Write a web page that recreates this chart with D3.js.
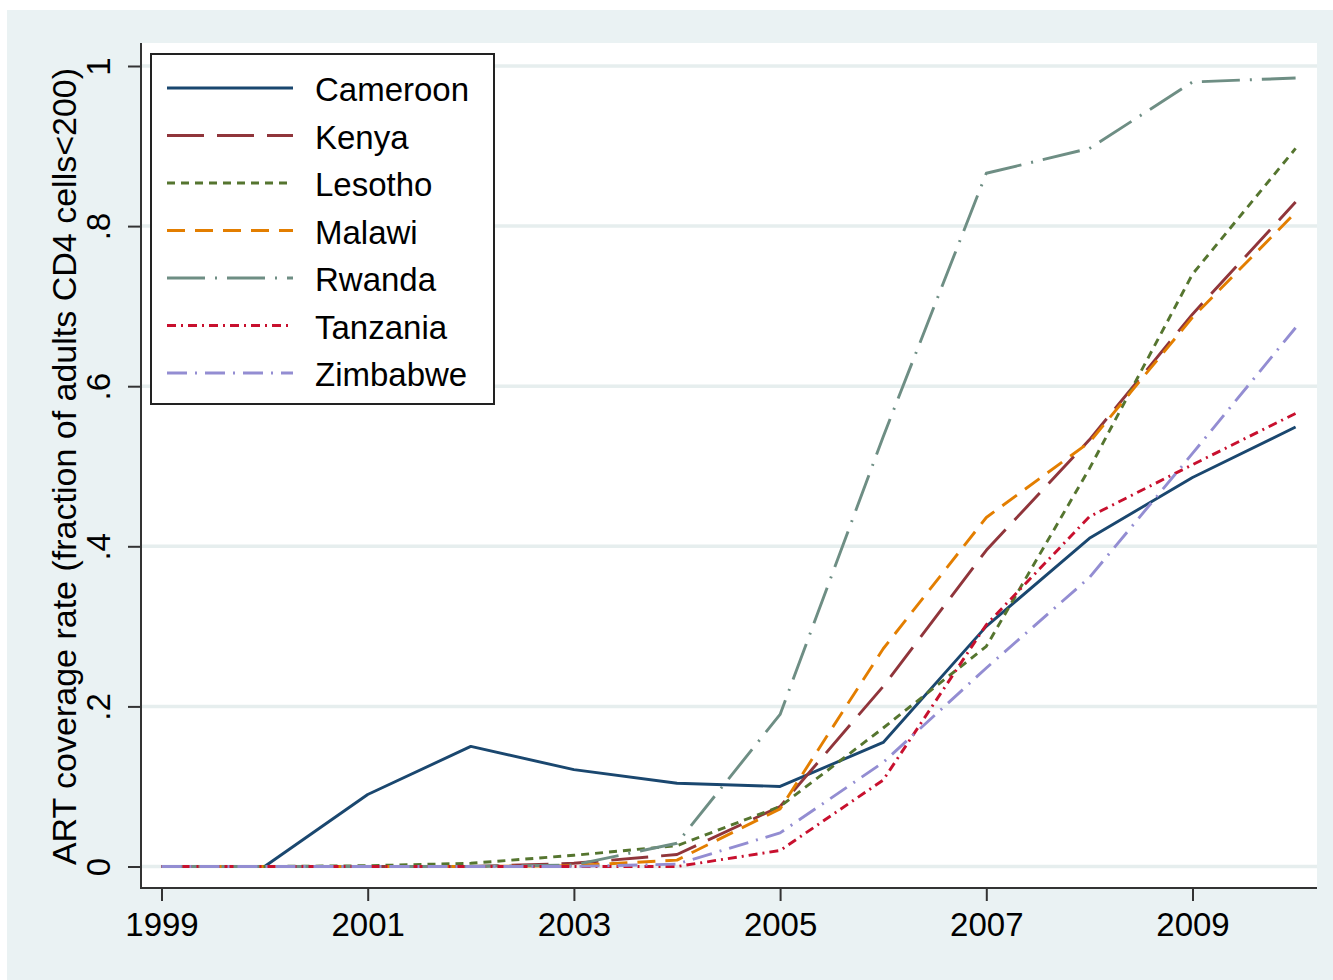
<!DOCTYPE html>
<html>
<head>
<meta charset="utf-8">
<script src="https://cdn.jsdelivr.net/npm/d3@7"></script>
<style>
  html, body { margin: 0; padding: 0; background: #ffffff; }
  svg { display: block; font-family: "Liberation Sans", Arial, Helvetica, sans-serif; }
</style>
</head>
<body>
<svg id="chart" width="1333" height="980"></svg>
<script>
// Years on the x axis
const years = [1999, 2000, 2001, 2002, 2003, 2004, 2005, 2006, 2007, 2008, 2009, 2010];

// ART coverage rate per country (fraction of adults with CD4 < 200)
const cameroon = [0, 0, 0.09, 0.15, 0.121, 0.104, 0.1, 0.155, 0.3, 0.41, 0.486, 0.549];
const kenya    = [0, 0, 0, 0, 0.004, 0.015, 0.075, 0.225, 0.395, 0.533, 0.69, 0.83];
const lesotho  = [0, 0, 0.001, 0.004, 0.014, 0.026, 0.075, 0.173, 0.275, 0.497, 0.74, 0.897];
const malawi   = [0, 0, 0, 0, 0.001, 0.008, 0.072, 0.272, 0.436, 0.53, 0.686, 0.817];
const rwanda   = [0, 0, 0, 0, 0.002, 0.029, 0.19, 0.537, 0.866, 0.897, 0.98, 0.985];
const tanzania = [0, 0, 0, 0, 0, 0, 0.02, 0.108, 0.302, 0.437, 0.502, 0.566];
const zimbabwe = [0, 0, 0, 0, 0, 0.003, 0.042, 0.13, 0.248, 0.361, 0.516, 0.673];

const countries = ["Cameroon", "Kenya", "Lesotho", "Malawi", "Rwanda", "Tanzania", "Zimbabwe"];
const seriesValues = [cameroon, kenya, lesotho, malawi, rwanda, tanzania, zimbabwe];

// Axis ticks
const xTicks = [1999, 2001, 2003, 2005, 2007, 2009];
const yTicks = [0, 0.2, 0.4, 0.6, 0.8, 1];
const yTickLabels = ["0", ".2", ".4", ".6", ".8", "1"];

// Line styling per country
const colors = ["#1a476f", "#90353b", "#55752f", "#e37e00", "#6e8e84", "#c8102e", "#938dd2"];
const dashes = [null, "37 13", "8 6", "18 10", "38 10 2 10", "9 5 2 5", "20 8 2 8"];
const lineWidth = 2.9;

const svg = d3.select("#chart");

// Outer graph region
svg.append("rect")
  .attr("x", 7).attr("y", 10).attr("width", 1326).attr("height", 970)
  .attr("fill", "#eaf2f3");

// Plot region
const plot = { left: 141, right: 1317, top: 43, bottom: 888 };
svg.append("rect")
  .attr("x", plot.left).attr("y", plot.top)
  .attr("width", plot.right - plot.left).attr("height", plot.bottom - plot.top)
  .attr("fill", "#ffffff");

const x = d3.scaleLinear().domain([1999, 2010]).range([161.5, 1295.6]);
const y = d3.scaleLinear().domain([0, 1]).range([866.5, 66]);

// Horizontal grid lines
svg.append("g").selectAll("line")
  .data(yTicks)
  .join("line")
  .attr("x1", plot.left).attr("x2", plot.right)
  .attr("y1", d => y(d)).attr("y2", d => y(d))
  .attr("stroke", "#e6eeee").attr("stroke-width", 3.5);

// Series lines
const line = d3.line()
  .x((d, i) => x(years[i]))
  .y(d => y(d));

const linesG = svg.append("g");
seriesValues.forEach((vals, k) => {
  linesG.append("path")
    .datum(vals)
    .attr("d", line)
    .attr("fill", "none")
    .attr("stroke", colors[k])
    .attr("stroke-width", lineWidth)
    .attr("stroke-linejoin", "round")
    .attr("stroke-dasharray", dashes[k]);
});

// Axes
const axisColor = "#333333";

const xAxis = d3.axisBottom(x)
  .tickValues(xTicks)
  .tickFormat(d3.format("d"))
  .tickSize(13);
const gx = svg.append("g")
  .attr("transform", `translate(0,${plot.bottom})`)
  .call(xAxis);
gx.select(".domain").remove();
gx.selectAll(".tick line").attr("stroke", axisColor).attr("stroke-width", 2);
gx.selectAll(".tick text")
  .attr("y", 48).attr("dy", 0)
  .attr("fill", "#000")
  .style("font-size", "33px")
  .style("font-family", "'Liberation Sans', Arial, sans-serif");

const yAxis = d3.axisLeft(y)
  .tickValues(yTicks)
  .tickFormat((d, i) => yTickLabels[i])
  .tickSize(13);
const gy = svg.append("g")
  .attr("transform", `translate(${plot.left},0)`)
  .call(yAxis);
gy.select(".domain").remove();
gy.selectAll(".tick line").attr("stroke", axisColor).attr("stroke-width", 2);
gy.selectAll(".tick text")
  .attr("transform", "rotate(-90)")
  .attr("x", 0).attr("y", -31).attr("dy", 0)
  .attr("text-anchor", "middle")
  .attr("fill", "#000")
  .style("font-size", "33px")
  .style("font-family", "'Liberation Sans', Arial, sans-serif");

// Axis lines
svg.append("line")
  .attr("x1", plot.left).attr("x2", plot.left)
  .attr("y1", plot.top).attr("y2", plot.bottom + 1)
  .attr("stroke", axisColor).attr("stroke-width", 2);
svg.append("line")
  .attr("x1", plot.left - 1).attr("x2", plot.right)
  .attr("y1", plot.bottom).attr("y2", plot.bottom)
  .attr("stroke", axisColor).attr("stroke-width", 2);

// Y axis title
svg.append("text")
  .attr("transform", `translate(76,${(plot.top + plot.bottom) / 2 + 1}) rotate(-90)`)
  .attr("text-anchor", "middle")
  .attr("fill", "#000")
  .style("font-size", "34px")
  .text("ART coverage rate (fraction of adults CD4 cells<200)");

// Legend
const legend = svg.append("g");
legend.append("rect")
  .attr("x", 151).attr("y", 54).attr("width", 343).attr("height", 350)
  .attr("fill", "#ffffff")
  .attr("stroke", "#222222").attr("stroke-width", 2);

const rowY = d3.scalePoint().domain(countries).range([88, 373]);
countries.forEach((name, k) => {
  const cy = rowY(name);
  legend.append("line")
    .attr("x1", 167).attr("x2", 293)
    .attr("y1", cy).attr("y2", cy)
    .attr("stroke", colors[k])
    .attr("stroke-width", lineWidth)
    .attr("stroke-dasharray", dashes[k]);
  legend.append("text")
    .attr("x", 315).attr("y", cy + 13)
    .attr("fill", "#000")
    .style("font-size", "33px")
    .text(name);
});
</script>
</body>
</html>
